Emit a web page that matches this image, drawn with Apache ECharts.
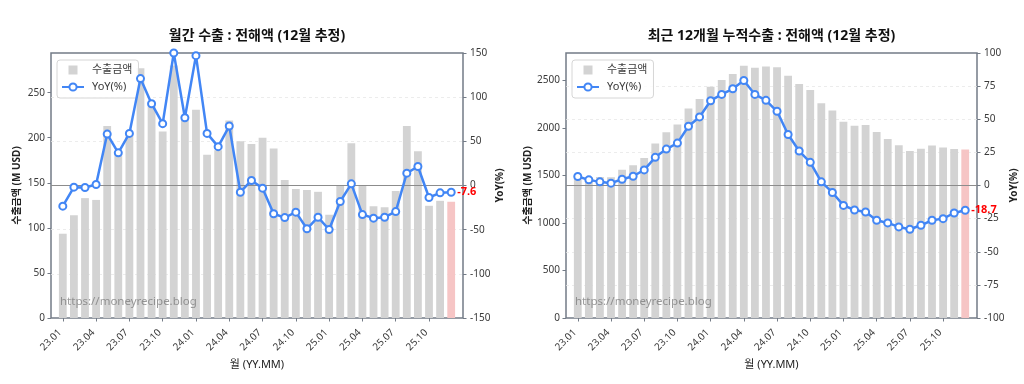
<!DOCTYPE html>
<html><head><meta charset="utf-8">
<script src="https://cdn.jsdelivr.net/npm/echarts@6/dist/echarts.min.js"></script>
<style>html,body{margin:0;padding:0;background:#fff}#c{width:1024px;height:384px}</style>
</head><body><div id="c"></div>
<script>
const months = ['23.01','23.02','23.03','23.04','23.05','23.06','23.07','23.08','23.09','23.10','23.11','23.12',
                '24.01','24.02','24.03','24.04','24.05','24.06','24.07','24.08','24.09','24.10','24.11','24.12',
                '25.01','25.02','25.03','25.04','25.05','25.06','25.07','25.08','25.09','25.10','25.11','25.12'];
const tickMonths = ['23.01','23.04','23.07','23.10','24.01','24.04','24.07','24.10','25.01','25.04','25.07','25.10'];

const monthlyExport = [93.5,114,133,131,213,182,205,277,240,207,280,223,
                       231,181,186,219,196,193,200,188,153,143,142,140,
                       114.5,147,194,147,124,123,141,213,185,124.5,130,129];
const monthlyYoY = [-23.4,-1.9,-2.3,1.1,58.2,37,59,121,92.6,70,150,76.7,
                    147,59,44,67.3,-7.6,5.7,-3,-32,-36.3,-30.2,-49,-35.9,
                    -49.9,-18.1,1.9,-32.9,-37,-35.9,-29.5,14,21.5,-13.6,-8.3,-7.6];
const cumExport = [1482,1484,1484,1481,1560,1606,1683,1834,1953,2034,2202,2304,
                   2433,2504,2567,2654,2633,2644,2637,2549,2462,2399,2258,2181,
                   2065,2023,2030,1957,1883,1816,1757,1781,1813,1792,1778,1771];
const cumYoY = [6.75,4.25,2.75,1.75,4.75,7,11.75,21.25,27.5,32,44.75,51.75,
                64,68.75,73,79.25,68.75,64.25,56,38.5,26,17.5,2.75,-5.25,
                -15,-18.5,-20,-26.25,-28.25,-31.25,-33,-30,-26.25,-25,-20.75,-18.7];

const titleMonthly = '월간 수출 : 전해액 (12월 추정)';
const titleCum = '최근 12개월 누적수출 : 전해액 (12월 추정)';
const barName = '수출금액';
const lineName = 'YoY(%)';
const yLeftName = '수출금액 (M USD)';
const yRightName = 'YoY(%)';
const xName = '월 (YY.MM)';
const watermark = 'https://moneyrecipe.blog';

const FONT = "'Noto Sans', 'Noto Sans CJK KR', sans-serif";
const BLUE = '#4286f5';
const FRAME = '#737b86';
const GRAY_BAR = '#d3d3d3';
const PINK = '#f6c5c5';
const TXT = '#3a3a3a';

const panels = [
  {left:51, width:412, title:titleMonthly, bars:monthlyExport, yoy:monthlyYoY,
   leftMax:294, leftInt:50, rMin:-150, rMax:150, rInt:50, nameGapL:29, legendLeft:57},
  {left:566, width:411, title:titleCum, bars:cumExport, yoy:cumYoY,
   leftMax:2787, leftInt:500, rMin:-100, rMax:100, rInt:25, nameGapL:33, legendLeft:572}
];
const tickIdx = tickMonths.map(m => months.indexOf(m));

const option = {
  backgroundColor:'#fff',
  animation:false,
  textStyle:{fontFamily:FONT},
  grid:[], xAxis:[], yAxis:[], series:[], legend:[], graphic:[]
};

panels.forEach((p,k) => {
  option.grid.push({left:p.left, top:53, width:p.width, height:265, show:true,
    borderColor:FRAME, borderWidth:1.5, backgroundColor:'transparent'});
  option.xAxis.push({type:'value', gridIndex:k, min:-1.064, max:36.064, position:'bottom',
    axisLine:{show:false, onZero:false}, splitLine:{show:false},
    axisTick:{show:true, customValues:tickIdx, length:3.5, lineStyle:{color:FRAME, width:1}},
    axisLabel:{customValues:tickIdx, formatter:v => months[Math.round(v)], rotate:45,
      fontSize:10, color:TXT, margin:10, padding:[0,4,0,0], fontFamily:FONT},
    name:xName, nameLocation:'middle', nameGap:37,
    nameTextStyle:{fontSize:11, color:'#222', fontFamily:FONT}});
  option.yAxis.push({type:'value', gridIndex:k, min:0, max:p.leftMax, interval:p.leftInt, position:'left',
    axisLine:{show:false, onZero:false}, splitLine:{show:false},
    axisTick:{show:true, length:3.5, lineStyle:{color:FRAME}},
    axisLabel:{showMaxLabel:false, formatter:v => String(v), fontSize:10, color:TXT, margin:6, fontFamily:FONT},
    name:yLeftName, nameLocation:'middle', nameGap:p.nameGapL, nameRotate:90,
    nameTextStyle:{fontSize:10, fontWeight:'bold', color:'#222', fontFamily:FONT}});
  option.yAxis.push({type:'value', gridIndex:k, min:p.rMin, max:p.rMax, interval:p.rInt, position:'right',
    axisLine:{show:false, onZero:false},
    splitLine:{show:true, showMinLine:false, showMaxLine:false, lineStyle:{color:'#e8e8e8', type:[3,3], width:0.8}},
    axisTick:{show:true, length:3.5, lineStyle:{color:FRAME}},
    axisLabel:{formatter:v => String(v), fontSize:10, color:TXT, margin:7, fontFamily:FONT},
    name:yRightName, nameLocation:'middle', nameGap:32, nameRotate:90,
    nameTextStyle:{fontSize:10, fontWeight:'bold', color:'#222', fontFamily:FONT}});
  const last = p.bars.length - 1;
  option.series.push({type:'bar', name:barName, xAxisIndex:k, yAxisIndex:2*k,
    barWidth:7.8, itemStyle:{color:GRAY_BAR}, z:2,
    data:p.bars.map((v,i) => i === last ? {value:[i,v], itemStyle:{color:PINK}} : {value:[i,v]})});
  option.series.push({type:'line', name:lineName, xAxisIndex:k, yAxisIndex:2*k+1,
    symbol:'circle', symbolSize:7, showAllSymbol:true, clip:false, z:10,
    lineStyle:{color:BLUE, width:2.5},
    itemStyle:{color:'#fff', borderColor:BLUE, borderWidth:2},
    markLine:{silent:true, symbol:'none', label:{show:false}, animation:false,
      lineStyle:{color:'#8c8c8c', width:1, type:'solid'}, data:[{yAxis:0}]},
    data:p.yoy.map((v,i) => i === last ? {value:[i,v], label:{show:true, position:'right', distance:1.5,
      formatter:() => v.toFixed(1), color:'#ff0000', fontWeight:'bold', fontSize:11, fontFamily:FONT}} : {value:[i,v]})});
  option.legend.push({left:p.legendLeft, top:60, orient:'vertical', selectedMode:false,
    data:[{name:barName, icon:'path://M0,0H10V10H0Z'}, {name:lineName}],
    itemWidth:22, itemHeight:9, itemGap:3,
    backgroundColor:'rgba(255,255,255,0.85)', borderColor:'#d6d6d6', borderWidth:1, borderRadius:3,
    padding:[3,6,4,4],
    textStyle:{fontSize:11, color:TXT, lineHeight:14, padding:[0,0,0,3], fontFamily:FONT}});
  option.graphic.push({type:'text', x:p.left + p.width/2, y:36, z:100,
    style:{text:p.title, fill:'#111', font:"bold 14px " + FONT, align:'center', verticalAlign:'middle'}});
  option.graphic.push({type:'text', x:p.left + 9, y:302, z:100,
    style:{text:watermark, fill:'rgba(120,120,120,0.75)', font:"11.5px " + FONT, align:'left', verticalAlign:'middle'}});
});

const chart = echarts.init(document.getElementById('c'), null, {renderer:'canvas'});
chart.setOption(option);
</script></body></html>
